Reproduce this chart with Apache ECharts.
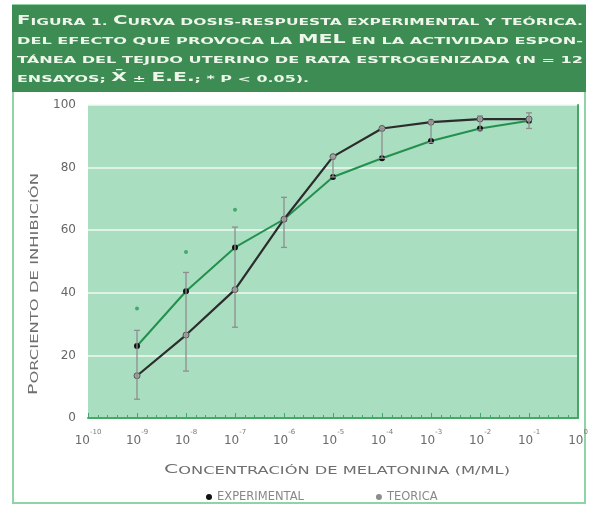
<!DOCTYPE html>
<html><head><meta charset="utf-8">
<script src="https://cdn.jsdelivr.net/npm/echarts@6/dist/echarts.min.js"></script>
<style>html,body{margin:0;padding:0;background:#fff}#c{width:595px;height:505px}</style>
</head><body><div id="c"></div>
<script>
// log10 of melatonin concentration (M/mL)
const concentrationExp = [-9, -8, -7, -6, -5, -4, -3, -2, -1];
// % inhibition, experimental mean
const experimental = [23, 40.5, 54.5, 63.5, 77, 83, 88.5, 92.5, 95];
// % inhibition, theoretical curve
const teorica = [13.5, 26.5, 41, 63.5, 83.5, 92.5, 94.5, 95.5, 95.5];
// error bar ends (± E.E.)
const errorHigh = [28, 46.5, 61, 70.5, 83, 92.5, 95, 96.5, 97.5];
const errorLow = [6, 15, 29, 54.5, 77, 83, 88, 92, 92.5];
// significance markers (* p < 0.05)
const signifExp = [-9, -8, -7];
const signifValues = [35, 53, 66.5];

const seriesNames = ['EXPERIMENTAL', 'TEORICA'];
const titleLines = [
  '{b|F}IGURA 1. {b|C}URVA DOSIS-RESPUESTA EXPERIMENTAL Y TEÓRICA.',
  'DEL EFECTO QUE PROVOCA LA {b|MEL} EN LA ACTIVIDAD ESPON-',
  'TÁNEA DEL TEJIDO UTERINO DE RATA ESTROGENIZADA (N = 12',
  'ENSAYOS; {b|X̄} ± {b|E.E.}; * P < 0.05).'
];
const xAxisName = '{b|C}ONCENTRACIÓN DE MELATONINA (M/ML)';
const yAxisName = '{b|P}ORCIENTO DE INHIBICIÓN';

const FONT = 'DejaVu Sans';
const mctx = document.createElement('canvas').getContext('2d');
function parseRich(str) {
  const out = []; const re = /\{b\|([^}]*)\}/g; let last = 0, m;
  while ((m = re.exec(str))) {
    if (m.index > last) out.push(['s', str.slice(last, m.index)]);
    out.push(['b', m[1]]); last = re.lastIndex;
  }
  if (last < str.length) out.push(['s', str.slice(last)]);
  return out;
}
function richStr(parts) { return parts.map(p => '{' + p[0] + '|' + p[1] + '}').join(''); }
function measure(parts, sm, bg, weight) {
  let w = 0;
  parts.forEach(p => {
    mctx.font = weight + ' ' + (p[0] === 'b' ? bg : sm) + 'px "' + FONT + '"';
    w += mctx.measureText(p[1]).width;
  });
  return w;
}
function stretchedText(str, opt) {
  const parts = parseRich(str);
  const w = measure(parts, opt.sm, opt.bg, opt.weight);
  const sx = opt.width ? opt.width / w : opt.scale;
  return {
    el: {
      type: 'text', x: opt.x, y: opt.y, rotation: opt.rotation || 0, scaleX: sx, z: 100,
      style: {
        text: richStr(parts), align: opt.align || 'left', verticalAlign: 'middle',
        rich: {
          s: { fontSize: opt.sm, fontWeight: opt.weight, fontFamily: FONT, fill: opt.color, lineHeight: opt.lh, verticalAlign: 'bottom' },
          b: { fontSize: opt.bg, fontWeight: opt.weight, fontFamily: FONT, fill: opt.color, lineHeight: opt.lh, verticalAlign: 'bottom' }
        }
      }
    }, scale: sx
  };
}

const graphics = [
  { type: 'rect', shape: { x: 13, y: 5, width: 572, height: 498 }, style: { fill: 'none', stroke: '#8fd3a6', lineWidth: 2 }, z: 0 },
  { type: 'rect', shape: { x: 12, y: 5, width: 574, height: 87 }, style: { fill: '#3d8c53' }, z: 1 }
];
const titleYs = [21, 40, 59, 78];
let avgScale = 0;
titleLines.forEach((t, i) => {
  const opt = { x: 17, y: titleYs[i], sm: 9, bg: 11.5, weight: 'bold', color: '#eef6ea', lh: 13 };
  if (i < 3) opt.width = 566; else opt.scale = avgScale / 3;
  const r = stretchedText(t, opt);
  if (i < 3) avgScale += r.scale;
  graphics.push(r.el);
});
graphics.push(stretchedText(xAxisName, { x: 337, y: 469, sm: 10, bg: 12.5, weight: 'normal', color: '#6f6f6f', lh: 14, width: 346, align: 'center' }).el);
graphics.push(stretchedText(yAxisName, { x: 33, y: 284, sm: 10, bg: 11.5, weight: 'normal', color: '#6f6f6f', lh: 14, width: 222, align: 'center', rotation: Math.PI / 2 }).el);

const chart = echarts.init(document.getElementById('c'), null, { renderer: 'canvas' });
chart.setOption({
  animation: false,
  backgroundColor: '#ffffff',
  graphic: graphics,
  grid: { left: 88, right: 17, top: 105, bottom: 87, show: true, backgroundColor: '#a9dec0', borderWidth: 0 },
  legend: {
    data: [
      { name: seriesNames[0], icon: 'circle', itemStyle: { color: '#111', borderWidth: 0 } },
      { name: seriesNames[1], icon: 'circle', itemStyle: { color: '#8c8c8c', borderWidth: 0 } }
    ],
    left: 201, top: 486, itemWidth: 6, itemHeight: 6, itemGap: 72,
    textStyle: { color: '#888', fontSize: 11.5, fontFamily: FONT }
  },
  xAxis: {
    type: 'value', min: -10, max: 0, interval: 1,
    axisLine: { show: true, onZero: false, lineStyle: { color: '#47a866', width: 2 } },
    axisTick: { show: true, inside: true, length: 5, lineStyle: { color: '#47a866', width: 1 } },
    minorTick: { show: true, splitNumber: 5, length: 3, lineStyle: { color: '#47a866', width: 1 } },
    splitLine: { show: false },
    axisLabel: {
      margin: 11,
      formatter: v => '{b|10}{s|' + v + '}',
      rich: {
        b: { fontSize: 12, fontFamily: FONT, color: '#6a6a6a', lineHeight: 18, verticalAlign: 'bottom' },
        s: { fontSize: 7, fontFamily: FONT, color: '#7a7a7a', lineHeight: 18, verticalAlign: 'top' }
      }
    }
  },
  yAxis: {
    type: 'value', min: 0, max: 100, interval: 20,
    axisLine: { show: true, lineStyle: { color: '#47a866', width: 2 } },
    axisTick: { show: false },
    splitLine: { show: true, lineStyle: { color: '#f1faf2', width: 1.5 } },
    axisLabel: { margin: 12, color: '#666', fontSize: 12, fontFamily: FONT }
  },
  series: [
    {
      name: seriesNames[0], type: 'line', z: 4,
      data: concentrationExp.map((x, i) => [x, experimental[i]]),
      symbol: 'circle', symbolSize: 6,
      itemStyle: { color: '#111' },
      lineStyle: { color: '#23904f', width: 2 }
    },
    {
      name: seriesNames[1], type: 'line', z: 5,
      data: concentrationExp.map((x, i) => [x, teorica[i]]),
      symbol: 'circle', symbolSize: 6,
      itemStyle: { color: '#a3a3a3', borderColor: '#555', borderWidth: 1 },
      lineStyle: { color: '#2c2c2c', width: 2.2 }
    },
    {
      name: 'E.E.', type: 'custom', z: 6,
      data: concentrationExp.map((x, i) => [x, errorLow[i], errorHigh[i]]),
      encode: { x: 0, y: [1, 2] },
      renderItem: function (params, api) {
        const x = api.value(0);
        const lo = api.coord([x, api.value(1)]);
        const hi = api.coord([x, api.value(2)]);
        const w = 3;
        const st = { stroke: '#8e8e8e', lineWidth: 1.3 };
        return {
          type: 'group', children: [
            { type: 'line', shape: { x1: lo[0], y1: lo[1], x2: hi[0], y2: hi[1] }, style: st },
            { type: 'line', shape: { x1: lo[0] - w, y1: lo[1], x2: lo[0] + w, y2: lo[1] }, style: st },
            { type: 'line', shape: { x1: hi[0] - w, y1: hi[1], x2: hi[0] + w, y2: hi[1] }, style: st }
          ]
        };
      }
    },
    {
      name: '* p < 0.05', type: 'scatter', z: 6,
      data: signifExp.map((x, i) => [x, signifValues[i]]),
      symbol: 'circle', symbolSize: 4,
      itemStyle: { color: '#2e9a58' }
    }
  ]
});
</script>
</body></html>
